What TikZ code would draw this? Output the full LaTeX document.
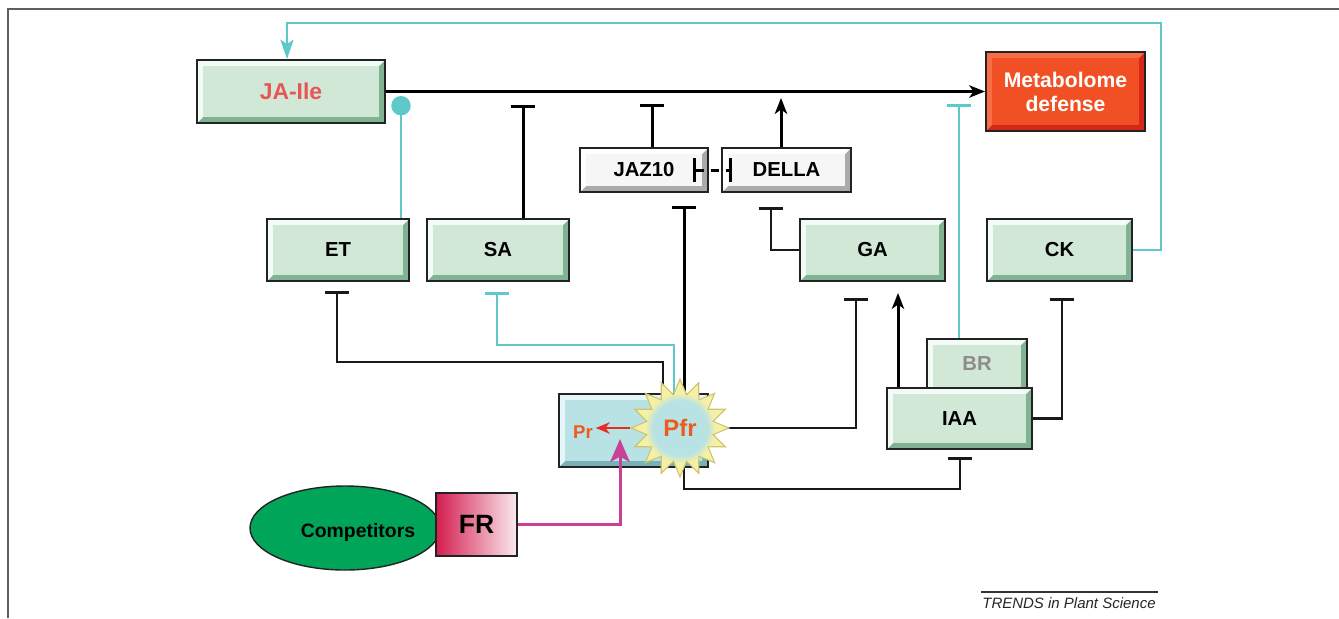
\documentclass[tikz,border=0pt]{standalone}
\usepackage{fontspec}
\setmainfont{Liberation Sans}
\usetikzlibrary{arrows.meta,shapes.geometric,calc}
\definecolor{boxg}{RGB}{210,232,215}
\definecolor{boxgl}{RGB}{242,251,245}
\definecolor{boxgd}{RGB}{128,178,148}
\definecolor{boxw}{RGB}{246,246,246}
\definecolor{boxwl}{RGB}{255,255,255}
\definecolor{boxwd}{RGB}{170,170,170}
\definecolor{prt}{RGB}{185,226,229}
\definecolor{prtl}{RGB}{228,246,247}
\definecolor{prtd}{RGB}{118,178,184}
\definecolor{metaf}{RGB}{240,80,35}
\definecolor{metal}{RGB}{245,110,70}
\definecolor{metad}{RGB}{212,38,25}
\definecolor{cyanl}{RGB}{95,200,200}
\definecolor{jared}{RGB}{232,85,85}
\definecolor{pfror}{RGB}{235,90,30}
\definecolor{prred}{RGB}{230,45,35}
\definecolor{mag}{RGB}{200,65,150}
\definecolor{compg}{RGB}{0,165,90}
\definecolor{frl}{RGB}{212,30,80}
\definecolor{frr}{RGB}{250,234,238}
\definecolor{staryel}{RGB}{245,240,165}
\definecolor{starrim}{RGB}{205,195,115}
\definecolor{brgray}{RGB}{140,140,140}
\definecolor{framec}{RGB}{95,95,95}
\definecolor{edge}{RGB}{35,35,35}
\pgfdeclareradialshading{pfrshade}{\pgfpoint{0bp}{0bp}}{color(0bp)=(prt); color(14bp)=(prt); color(18bp)=(staryel); color(23bp)=(staryel); color(25bp)=(starrim); color(50bp)=(starrim)}
\pgfdeclarelayer{bg}
\pgfsetlayers{bg,main}
\newcommand\PX{0.567pt}
\tikzset{
  bevel/.style n args={3}{fill=#1, draw=edge, line width=1.1pt, inner sep=0pt,
    path picture={
      \fill[#3] (path picture bounding box.south west) rectangle (path picture bounding box.north east);
      \fill[#2] (path picture bounding box.south west) -- (path picture bounding box.north west)
        -- (path picture bounding box.north east) -- ([shift={(-3.5pt,-3.5pt)}]path picture bounding box.north east)
        -- ([shift={(3.5pt,-3.5pt)}]path picture bounding box.north west) -- ([shift={(3.5pt,3.5pt)}]path picture bounding box.south west) -- cycle;
      \fill[#1] ([shift={(3.5pt,3.5pt)}]path picture bounding box.south west) rectangle ([shift={(-3.5pt,-3.5pt)}]path picture bounding box.north east);
    }},
  gbox/.style={bevel={boxg}{boxgl}{boxgd}, font=\fontsize{11.5}{13}\selectfont\bfseries},
  wbox/.style={bevel={boxw}{boxwl}{boxwd}, font=\fontsize{11.5}{13}\selectfont\bfseries},
  pbox/.style={bevel={prt}{prtl}{prtd}},
  mbox/.style={bevel={metaf}{metal}{metad}, text=white, align=center, font=\fontsize{12}{13.6}\selectfont\bfseries},
  thk/.style={line width=1.7pt, draw=black},
  thn/.style={line width=1.2pt, draw=black!90},
  cy/.style={line width=1.3pt, draw=cyanl},
  inh/.style={-{Bar[width=14pt,line width=1.8pt]}},
  act/.style={-{Stealth[length=9pt,width=7pt,inset=2.5pt]}},
}
\begin{document}
\begin{tikzpicture}[x=0.567pt,y=-0.567pt]
\useasboundingbox (0,0) rectangle (1339,618);
% frame
\draw[framec, line width=1pt] (8,618) -- (8,9) -- (1339,9);

% boxes
\node[gbox, text=jared, font=\fontsize{13}{15}\selectfont\bfseries, minimum width=188*\PX, minimum height=63*\PX] (ja) at (291,91.5) {JA-Ile};
\node[mbox, minimum width=159*\PX, minimum height=79*\PX] (meta) at (1065.5,91.5) {Metabolome\\defense};
\node[wbox, minimum width=128*\PX, minimum height=44*\PX] (jaz) at (644,170) {JAZ10};
\node[wbox, minimum width=129*\PX, minimum height=44*\PX] (della) at (786.5,170) {DELLA};
\node[gbox, minimum width=142*\PX, minimum height=62*\PX] (et) at (338,250) {ET};
\node[gbox, minimum width=142*\PX, minimum height=62*\PX] (sa) at (498,250) {SA};
\node[gbox, minimum width=145*\PX, minimum height=62*\PX] (ga) at (872.5,250) {GA};
\node[gbox, minimum width=145*\PX, minimum height=62*\PX] (ck) at (1059.5,250) {CK};
\node[gbox, text=brgray, minimum width=100*\PX, minimum height=60*\PX] (br) at (977,369) {\raisebox{6pt}{BR}};
\node[gbox, minimum width=145*\PX, minimum height=61*\PX] (iaa) at (959.5,418.5) {IAA};

% Pr box and Pfr star
\node[pbox, minimum width=149*\PX, minimum height=73*\PX] (prbox) at (633.5,430.5) {};
\node[star, star points=16, star point ratio=1.45, minimum size=98*\PX, inner sep=0pt,
      shading=pfrshade, draw=starrim, line width=0.6pt, text=pfror,
      font=\fontsize{13.5}{15}\selectfont\bfseries] (pfr) at (680,428) {Pfr};
\node[text=pfror, font=\fontsize{10.5}{12}\selectfont\bfseries, inner sep=1.5pt] (prtext) at (583,432) {Pr};
\draw[prred, line width=1.5pt, -{Stealth[length=8pt,width=6.5pt]}] (pfr.west) -- (pfr.west -| prtext.east);

% competitors and FR
\node[ellipse, fill=compg, draw=edge, line width=0.8pt, minimum width=190*\PX, minimum height=84*\PX, inner sep=0pt] (comp) at (345,528) {};
\node[font=\fontsize{11}{13}\selectfont\bfseries, text=black] (comptext) at (358,532) {Competitors};
\node[draw=edge, line width=1.1pt, left color=frl, right color=frr, minimum width=81*\PX, minimum height=63*\PX, inner sep=0pt, font=\fontsize{15}{17}\selectfont\bfseries] (fr) at (476.5,524.5) {FR};

% named coordinates
\coordinate (ckc) at (1161,23);
\coordinate (jac) at (287,23);
\coordinate (etc) at (401,96);
\coordinate (sac) at (523,105);
\coordinate (jzc) at (652,104);
\coordinate (dlc) at (781,98);
\coordinate (brc) at (959,104);
\coordinate (jd1) at (693,170);
\coordinate (jd2) at (732,170);
\coordinate (gdc) at (771,207);
\coordinate (pjc) at (684,206);
\coordinate (pe1) at (663,362);
\coordinate (pe2) at (337,291);
\coordinate (ps1) at (674,345);
\coordinate (ps2) at (497,292);
\coordinate (pg2) at (856,298);
\coordinate (pi1) at (684,489);
\coordinate (pi2) at (960,457);
\coordinate (ig) at (898,293);
\coordinate (ic) at (1062,298);
\coordinate (magend) at (620,439);

\begin{pgfonlayer}{bg}
\draw[thk,act] (ja.east) -- (meta.west);
\draw[cy,-{Stealth[length=11pt,width=7.5pt,inset=2.5pt]}] (ck.east) -| (ckc) -- (jac) -- (jac |- ja.north);
\draw[cy,-{Circle[length=11pt]}] (et.north -| etc) -- (etc);
\draw[thk,inh] (sa.north -| sac) -- (sac);
\draw[thk,inh] (jaz.north -| jzc) -- (jzc);
\draw[thk,act] (della.north -| dlc) -- (dlc);
\draw[cy,inh] (br.north -| brc) -- (brc);
\draw[thn,inh] (ga.west) -| (gdc);
\draw[thk,inh] (pfr.center -| pjc) -- (pjc);
\draw[thn,inh] (pfr.center -| pe1) -- (pe1) -| (pe2);
\draw[cy,inh] (pfr.center -| ps1) -- (ps1) -| (ps2);
\draw[thn,inh] (pfr.center) -| (pg2);
\draw[thn,inh] (pfr.center -| pi1) -- (pi1) -| (pi2);
\draw[thk,act] (iaa.north -| ig) -- (ig);
\draw[thn,inh] (iaa.east) -| (ic);
\end{pgfonlayer}

% JAZ10 -- DELLA mutual inhibition
\draw[thk, dash pattern=on 4.8pt off 4pt, {Bar[width=13.5pt]}-{Bar[width=13.5pt]}] (jd1) -- (jd2);
% FR -> Pr
\draw[mag, line width=1.7pt, -{Stealth[length=13pt,width=11pt,inset=3pt]}] (fr.east) -| (magend);

% credit
\draw[black!80, line width=0.6pt] (981,592) -- (1158,592);
\node[font=\fontsize{8.5}{10}\selectfont\itshape, text=black!85] (credit) at (1069,603) {TRENDS in Plant Science};
\end{tikzpicture}
\end{document}
